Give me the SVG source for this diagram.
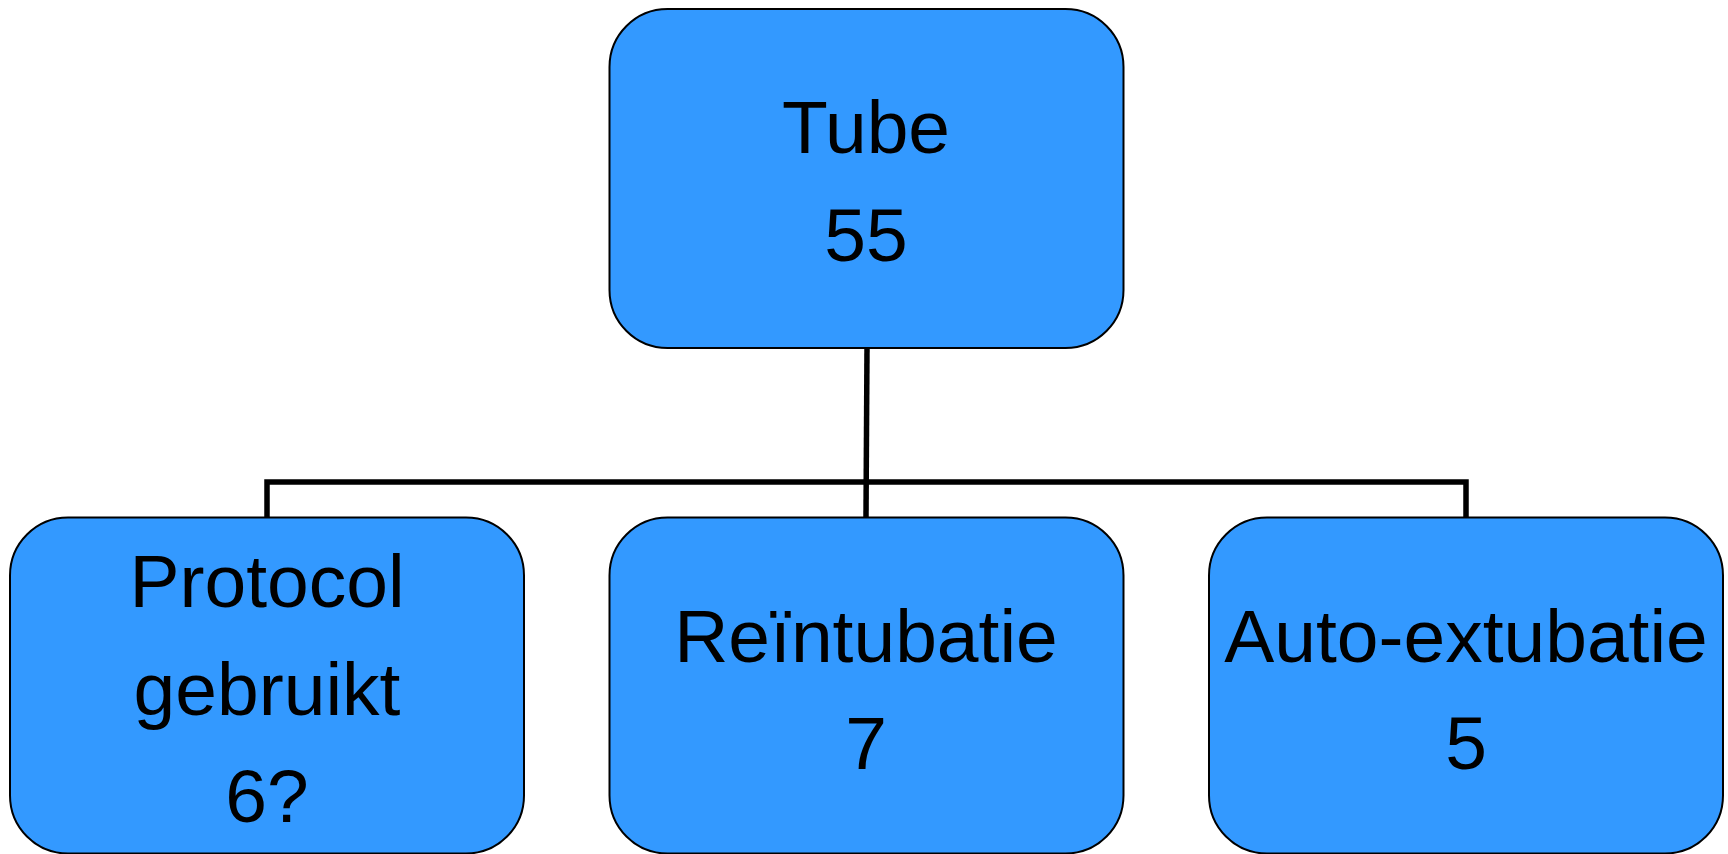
<svg xmlns="http://www.w3.org/2000/svg" width="1728" height="854" viewBox="0 0 1728 854">
<style>
.box{fill:#3399ff;stroke:#000;stroke-width:2}
.lbl{font-family:"Liberation Sans",Arial,sans-serif;font-size:75px;fill:#000;text-anchor:middle}
.conn{fill:none;stroke:#000;stroke-width:5.5}
</style>
<rect width="1728" height="854" fill="#fff"/>
<g id="connectors">
<path class="conn" d="M867 348 L866 517"/>
<path class="conn" d="M267 517 L267 482 L1466 482 L1466 517"/>
</g>
<g id="node-tube">
<rect class="box" x="609.5" y="9" width="514" height="339" rx="58" ry="58"/>
<text class="lbl" x="866" y="153">Tube</text>
<text class="lbl" x="866" y="261">55</text>
</g>
<g id="node-protocol">
<rect class="box" x="10" y="517.5" width="514" height="336" rx="58" ry="58"/>
<text class="lbl" x="267" y="607">Protocol</text>
<text class="lbl" x="267" y="715">gebruikt</text>
<text class="lbl" x="267" y="822">6?</text>
</g>
<g id="node-reintubatie">
<rect class="box" x="609.5" y="517.5" width="514" height="336" rx="58" ry="58"/>
<text class="lbl" x="866" y="662">Reïntubatie</text>
<text class="lbl" x="866" y="769">7</text>
</g>
<g id="node-autoextubatie">
<rect class="box" x="1209" y="517.5" width="514" height="336" rx="58" ry="58"/>
<text class="lbl" x="1466" y="662">Auto-extubatie</text>
<text class="lbl" x="1466" y="769">5</text>
</g>
</svg>
